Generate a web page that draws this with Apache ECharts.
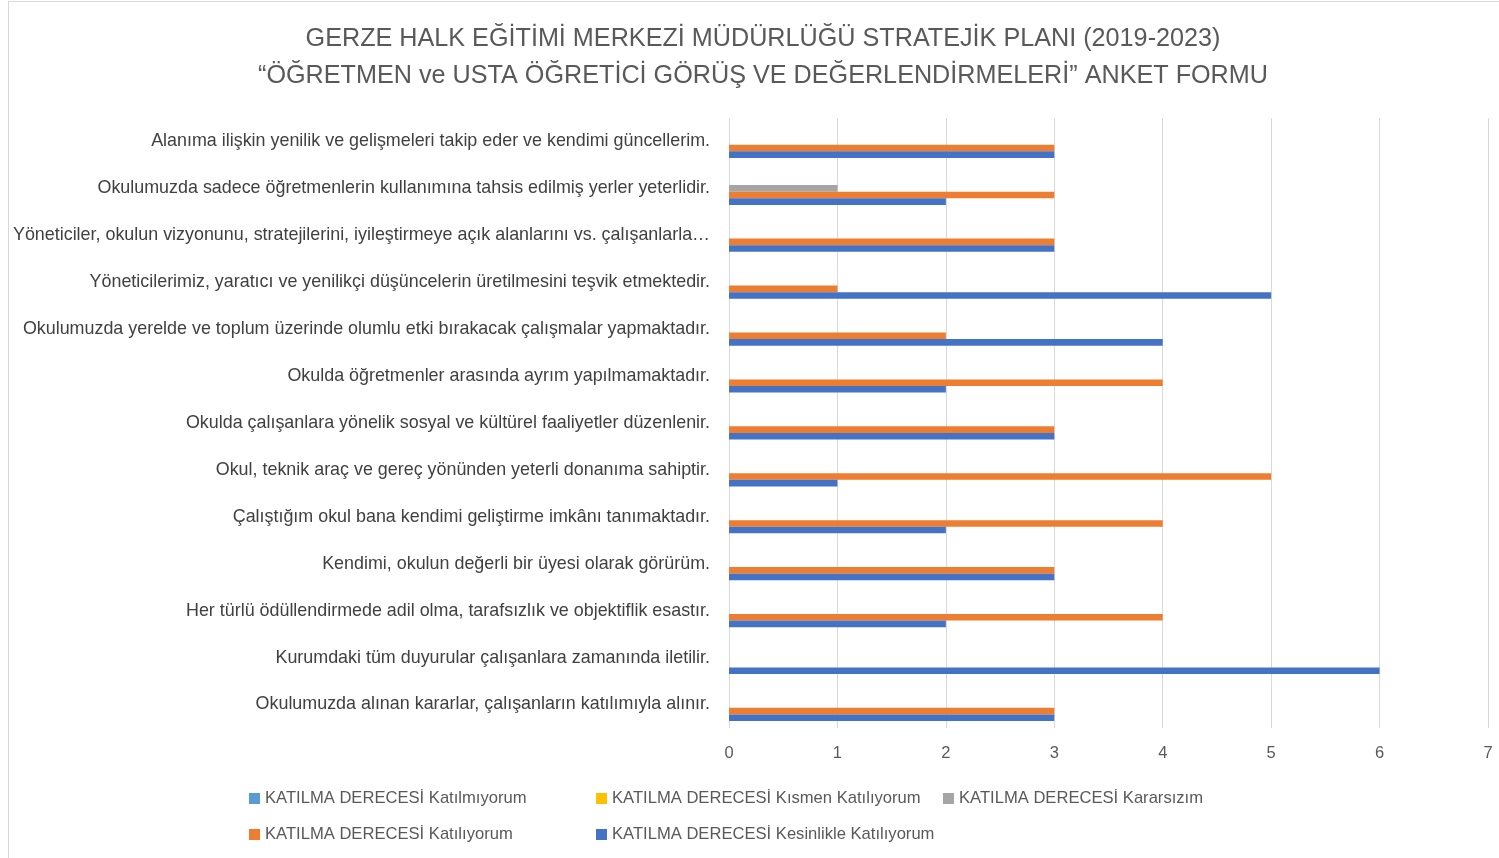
<!DOCTYPE html>
<html>
<head>
<meta charset="utf-8">
<script src="https://cdn.jsdelivr.net/npm/echarts@6/dist/echarts.min.js"></script>
<style>
  html, body { margin: 0; padding: 0; background: #fff; }
  #chart { width: 1499px; height: 858px; }
  .frame { position: absolute; left: 8px; top: 1px; width: 1500px; height: 870px; border: 1px solid #d9d9d9; pointer-events: none; }
</style>
</head>
<body>
<div id="chart"></div>
<div class="frame"></div>
<script>
// sorular (yukarıdan aşağıya)
const questions = [
  'Alanıma ilişkin yenilik ve gelişmeleri takip eder ve kendimi güncellerim.',
  'Okulumuzda sadece öğretmenlerin kullanımına tahsis edilmiş yerler yeterlidir.',
  'Yöneticiler, okulun vizyonunu, stratejilerini, iyileştirmeye açık alanlarını vs. çalışanlarla…',
  'Yöneticilerimiz, yaratıcı ve yenilikçi düşüncelerin üretilmesini teşvik etmektedir.',
  'Okulumuzda yerelde ve toplum üzerinde olumlu etki bırakacak çalışmalar yapmaktadır.',
  'Okulda öğretmenler arasında ayrım yapılmamaktadır.',
  'Okulda çalışanlara yönelik sosyal ve kültürel faaliyetler düzenlenir.',
  'Okul, teknik araç ve gereç yönünden yeterli donanıma sahiptir.',
  'Çalıştığım okul bana kendimi geliştirme imkânı tanımaktadır.',
  'Kendimi, okulun değerli bir üyesi olarak görürüm.',
  'Her türlü ödüllendirmede adil olma, tarafsızlık ve objektiflik esastır.',
  'Kurumdaki tüm duyurular çalışanlara zamanında iletilir.',
  'Okulumuzda alınan kararlar, çalışanların katılımıyla alınır.'
];

const seriesNames = [
  'KATILMA DERECESİ Katılmıyorum',
  'KATILMA DERECESİ Kısmen Katılıyorum',
  'KATILMA DERECESİ Kararsızım',
  'KATILMA DERECESİ Katılıyorum',
  'KATILMA DERECESİ Kesinlikle Katılıyorum'
];
const seriesColors = ['#5B9BD5', '#FFC000', '#A5A5A5', '#ED7D31', '#4472C4'];

const katilmiyorum = [0, 0, 0, 0, 0, 0, 0, 0, 0, 0, 0, 0, 0];
const kismen       = [0, 0, 0, 0, 0, 0, 0, 0, 0, 0, 0, 0, 0];
const kararsizim   = [0, 1, 0, 0, 0, 0, 0, 0, 0, 0, 0, 0, 0];
const katiliyorum  = [3, 3, 3, 1, 2, 4, 3, 5, 4, 3, 4, 0, 3];
const kesinlikle   = [3, 2, 3, 5, 4, 2, 3, 1, 2, 3, 2, 6, 3];

const xTicks = [0, 1, 2, 3, 4, 5, 6, 7];

const seriesData = [katilmiyorum, kismen, kararsizim, katiliyorum, kesinlikle];

const chart = echarts.init(document.getElementById('chart'));

// lejant: sütun hizalı olsun diye her öğe ayrı
const legendPos = [
  { left: 244, top: 785 },
  { left: 591, top: 785 },
  { left: 938, top: 785 },
  { left: 244, top: 821 },
  { left: 591, top: 821 }
];

const option = {
  animation: false,
  textStyle: { fontFamily: 'Liberation Sans' },
  title: {
    text: 'GERZE HALK EĞİTİMİ MERKEZİ MÜDÜRLÜĞÜ STRATEJİK PLANI (2019-2023)\n“ÖĞRETMEN ve USTA ÖĞRETİCİ GÖRÜŞ VE DEĞERLENDİRMELERİ” ANKET FORMU',
    left: 758,
    textAlign: 'center',
    top: 16,
    textStyle: {
      color: '#595959',
      fontSize: 25.2,
      fontWeight: 'normal',
      lineHeight: 37,
      fontFamily: 'Liberation Sans'
    }
  },
  legend: legendPos.map((p, i) => ({
    left: p.left,
    top: p.top,
    data: [seriesNames[i]],
    itemWidth: 11,
    itemHeight: 11,
    itemGap: 4,
    icon: 'rect',
    textStyle: { color: '#595959', fontSize: 16.6, padding: [0, 0, 0, 0] }
  })),
  grid: {
    left: 729,
    right: 11,
    top: 118,
    height: 610,
    containLabel: false
  },
  xAxis: {
    type: 'value',
    min: 0,
    max: 7,
    interval: 1,
    axisLine: { show: false },
    axisTick: { show: false },
    axisLabel: {
      color: '#595959',
      fontSize: 16.5,
      margin: 17,
      formatter: v => xTicks.includes(v) ? String(v) : ''
    },
    splitLine: { lineStyle: { color: '#d9d9d9', width: 1 } }
  },
  yAxis: {
    type: 'category',
    inverse: true,
    data: questions,
    axisLine: { show: false },
    axisTick: { show: false },
    axisLabel: { color: '#404040', fontSize: 17.9, margin: 19 }
  },
  series: seriesNames.map((name, i) => ({
    name: name,
    type: 'bar',
    data: seriesData[i],
    barWidth: 6.6,
    barGap: '0%',
    itemStyle: { color: seriesColors[i] }
  }))
};

chart.setOption(option);
</script>
</body>
</html>
